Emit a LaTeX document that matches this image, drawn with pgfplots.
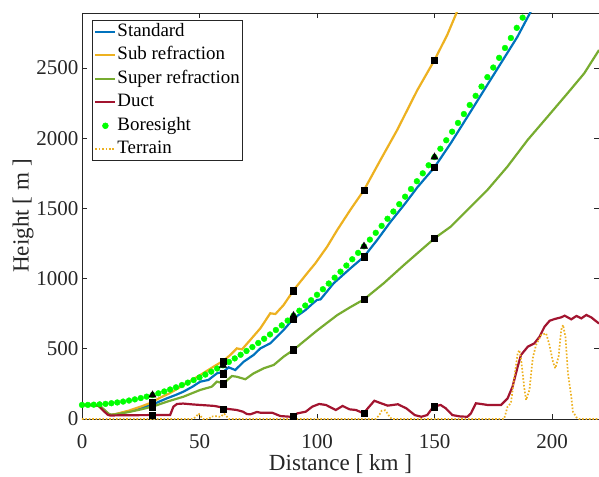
\documentclass[border=0pt]{standalone}
\usepackage{fontspec}
\setmainfont{Liberation Serif}
\usepackage{pgfplots}
\pgfplotsset{compat=1.18}
\usetikzlibrary{calc}

\definecolor{mblue}{rgb}{0,0.447,0.741}
\definecolor{morange}{rgb}{0.929,0.694,0.125}
\definecolor{mgreen}{rgb}{0.466,0.674,0.188}
\definecolor{mred}{rgb}{0.635,0.078,0.184}
\definecolor{bgreen}{rgb}{0,1,0}
\definecolor{axgray}{rgb}{0.15,0.15,0.15}

\begin{document}
\begin{tikzpicture}
\begin{axis}[
  scale only axis, width=517pt, height=406pt,
  xmin=0, xmax=220, ymin=0, ymax=2892,
  xtick={0,50,100,150,200}, ytick={0,500,1000,1500,2000,2500},
  tick align=inside, major tick length=5pt,
  axis line style={axgray, line width=0.8pt},
  every tick/.style={axgray, line width=0.8pt},
  tick label style={font=\fontsize{21}{24}\selectfont, text=axgray},
  /pgf/number format/assume math mode=true,
  /pgf/number format/1000 sep={},
  xticklabel style={anchor=base, yshift=-29pt},
  xlabel={Distance [ km ]}, ylabel={Height [ m ]},
  every axis x label/.style={at={(rel axis cs:0.5,0)}, yshift=-51.5pt, anchor=base,
    font=\fontsize{23.1}{26}\selectfont, text=axgray},
  every axis y label/.style={at={(rel axis cs:0,0.5)}, xshift=-59pt, rotate=90, anchor=center,
    font=\fontsize{23.1}{26}\selectfont, text=axgray},
  legend style={at={(rel axis cs:0,1)}, anchor=north west, xshift=10pt, yshift=-7pt,
    draw=axgray, line width=0.6pt, inner sep=2pt, row sep=4.5pt,
    font=\fontsize{18.9}{21}\selectfont, text=black,
    nodes={inner sep=1pt, text height=13pt, text depth=4pt}},
  legend cell align=left,
  legend image code/.code={\draw[mark repeat=2,mark phase=2,#1] plot coordinates {(0pt,0pt)(10pt,0pt)(20pt,0pt)};},
]
\coordinate (sw) at (rel axis cs:0,0);
\coordinate (ne) at (rel axis cs:1,1);

% standard
\addplot[mblue, line width=2.2pt] coordinates {
(0,100)(4,100)(6,99)(8,88)(10,55)(11.5,35)(12.5,30)(15,36)(20,55)(25,78)(28.4,97)(30,102)
(33,125)(36.1,147)(40,172)(43.2,195)(47,230)(50.3,266)(53.8,278)(57.4,325)(60.2,337)(62.4,368)
(65.2,349)(68.8,408)(73,456)(75.9,503)(80.1,539)(85.8,634)(90.1,717)(95.1,776)(98,820)(100,848)
(101.5,852)(107.1,967)(114.2,1073)(120,1156)(125.6,1275)(131.3,1405)(137,1524)(142.7,1650)
(148.3,1760)(150,1793)(156.9,1964)(164,2153)(171.1,2343)(178.2,2533)(185.3,2723)(190.7,2894)(191.5,2920)};
\addlegendentry{Standard}

% sub refraction
\addplot[morange, line width=2.2pt] coordinates {
(0,100)(4,100)(6,99)(8,88)(10,55)(11.5,35)(12.5,30)(15,38)(20,60)(25,88)(30,120)(33,150)
(37.5,185)(43.2,242)(50.3,313)(56,373)(60.2,415)(63.1,456)(65.9,503)(68.1,496)(71.6,563)
(75.9,646)(80.1,753)(82.3,748)(85.8,812)(90.1,919)(95.8,1038)(99.3,1109)(104.3,1227)(108.6,1346)
(114.2,1490)(120,1631)(127,1845)(134.1,2058)(142.7,2343)(150,2557)(155.4,2735)(159.4,2894)(160,2925)};
\addlegendentry{Sub refraction}

% super refraction
\addplot[mgreen, line width=2.2pt] coordinates {
(0,100)(4,100)(6,99)(8,88)(10,55)(11.5,35)(12.5,30)(15,35)(20,50)(25,68)(28.4,82)(30,88)
(36.1,123)(43.2,159)(50.3,207)(55.2,230)(57.4,266)(60.2,254)(63.8,306)(65.9,301)(69.5,283)
(73,325)(77.3,361)(81.6,385)(85.8,444)(90.1,494)(100,630)(108.6,740)(114,795)(120,852)
(128.4,967)(137,1097)(148.3,1262)(150,1287)(156.9,1370)(164,1489)(172.5,1631)(181,1797)
(189.6,1987)(198.1,2153)(206.6,2320)(213.7,2462)(220,2628)};
\addlegendentry{Super refraction}

% duct
\addplot[mred, line width=2.2pt] coordinates {
(0,100)(5,100)(7,95)(9,60)(11,30)(12,25)(15,26)(20,27)(30,28)(37.5,28)(38.9,88)(40.4,107)
(43,110)(47,104)(50.3,100)(53,97)(56.4,93)(60.2,80)(62,72)(65.9,64)(68.5,52)(70.1,36)(71.6,33)
(74.4,50)(75.9,45)(78.7,45)(80.9,45)(84.4,21)(88.7,16)(90.1,21)(91.6,40)(95.2,52)(98,88)
(100.9,107)(103.8,100)(108,64)(110.9,93)(113.8,69)(116.6,64)(119.9,40)(121.6,76)(124.4,130)
(126.6,116)(130.1,95)(134.4,105)(138,76)(141.6,28)(144.4,16)(146.9,28)(149.5,88)(152.6,100)
(154.8,76)(157.6,28)(161,18)(164,16)(165.5,40)(167.6,112)(169.8,107)(172.6,100)(178.3,100)
(181.1,147)(183.2,230)(185.4,373)(186.8,456)(189.7,515)(192.5,539)(194.7,586)(196.8,657)
(199,700)(201.1,712)(203.9,724)(205.4,736)(208.2,710)(210.4,734)(212.5,717)(214.6,741)
(216.7,724)(220,680)};
\addlegendentry{Duct}

% boresight
\addplot[only marks, mark=*, mark size=2.9pt, color=bgreen] coordinates {
(0,100)(2.5,100.5)(5,102.0)(7.5,104.4)(10,107.8)(12.5,112.3)(15,117.7)(17.5,124.0)(20,131.4)
(22.5,139.7)(25,149.1)(27.5,159.4)(30,170.6)(32.5,182.9)(35,196.1)(37.5,210.4)(40,225.6)
(42.5,241.8)(45,258.9)(47.5,277.1)(50,296.2)(52.5,316.3)(55,337.4)(57.5,359.5)(60,382.5)
(62.5,406.6)(65,431.6)(67.5,457.6)(70,484.6)(72.5,512.5)(75,541.5)(77.5,571.4)(80,602.3)
(82.5,634.2)(85,667.0)(87.5,700.9)(90,735.7)(92.5,771.5)(95,808.3)(97.5,846.1)(100,884.8)
(102.5,924.5)(105,965.2)(107.5,1006.9)(110,1049.6)(112.5,1093.3)(115,1137.9)(117.5,1183.5)
(120,1230.1)(122.5,1277.7)(125,1326.3)(127.5,1375.8)(130,1426.3)(132.5,1477.8)(135,1530.3)
(137.5,1583.8)(140,1638.2)(142.5,1693.6)(145,1750.0)(147.5,1807.4)(150,1865.8)(152.5,1925.1)
(155,1985.4)(157.5,2046.7)(160,2109.1)(162.5,2172.3)(165,2236.6)(167.5,2301.9)(170,2368.1)
(172.5,2435.3)(175,2503.5)(177.5,2572.7)(180,2642.8)(182.5,2714.0)(185,2786.1)(187.5,2859.1)};
\addlegendentry{Boresight}

% terrain
\addplot[morange, line width=1.7pt, dash pattern=on 1.6pt off 1.8pt] coordinates {
(0,0)(47,0)(48.5,15)(49.6,40)(50.5,20)(51.5,0)(54,0)(55,18)(57,20)(59,15)(60.5,38)(61.5,20)
(62.5,0)(125,0)(126.5,28)(127.5,59)(129,62)(130,40)(131,12)(132,0)(179.6,0)(181.1,88)
(182.5,112)(184,301)(185.4,468)(186.1,491)(186.8,432)(188.3,207)(189,135)(190.4,207)
(191.8,432)(193.2,527)(195.4,598)(197.5,610)(198.9,527)(200.4,408)(201.4,361)(202.8,444)
(203.9,634)(204.7,670)(205.7,586)(206.8,325)(208.2,159)(208.9,52)(210.4,12)(211.5,0)(220,0)};
\addlegendentry{Terrain}

% markers
\addplot[forget plot, only marks, mark=square*, mark size=3.1pt, black] coordinates {
(30,119)(60,413)(90,914)(120,1631)(150,2557)
(30,102)(60,322)(90,712)(120,1156)(150,1793)
(30,88)(60,252)(90,494)(120,852)(150,1287)
(30,28)(60,71)(90,21)(120,40)(150,88)};
\addplot[forget plot, only marks, mark=triangle*, mark size=4.2pt, black] coordinates {
(30,170.6)(60,382.5)(90,735.7)(120,1230.1)(150,1865.8)};
\end{axis}
\pgfresetboundingbox
\useasboundingbox ($(sw)+(-82pt,-57pt)$) rectangle ($(ne)+(0pt,13pt)$);
\end{tikzpicture}
\end{document}
